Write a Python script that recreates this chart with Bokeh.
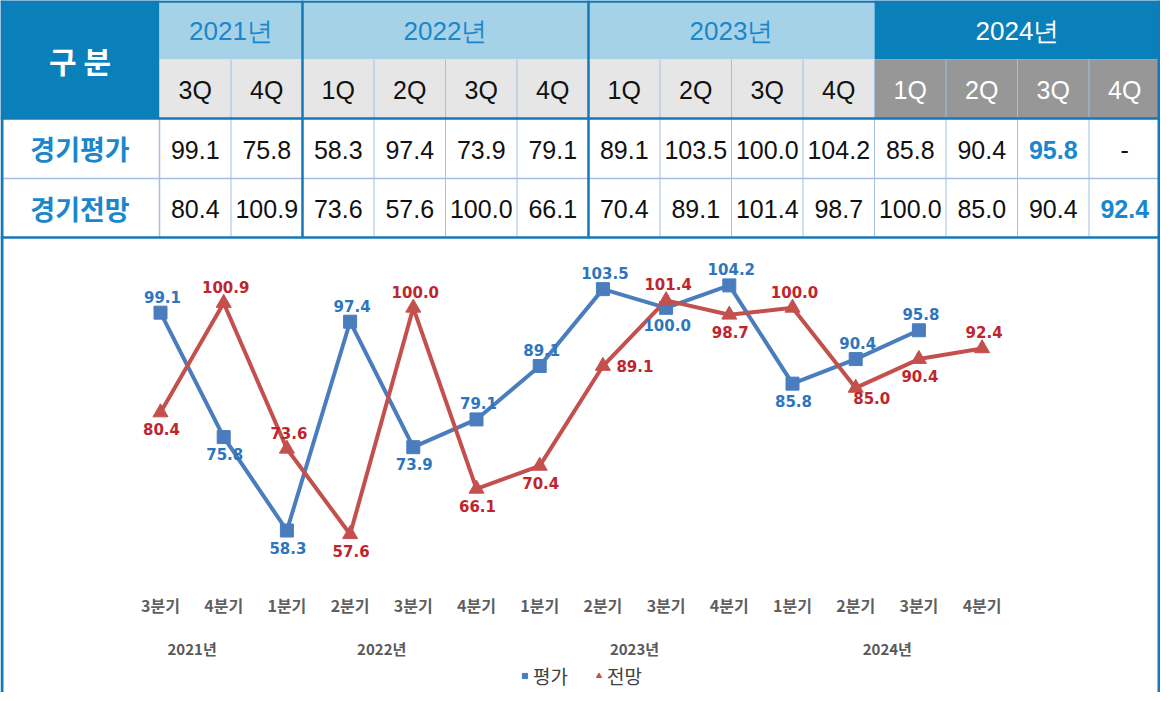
from bokeh.plotting import figure
from bokeh.models import Range1d, Legend, LegendItem, ColumnDataSource
from bokeh.core.properties import value
from bokeh.embed import file_html
from bokeh.resources import INLINE

# ---------------- data ----------------
header_label = "구 분"
years = ["2021년", "2022년", "2023년", "2024년"]
year_quarter_counts = [2, 4, 4, 4]
quarter_codes = ["3Q", "4Q", "1Q", "2Q", "3Q", "4Q", "1Q", "2Q", "3Q", "4Q", "1Q", "2Q", "3Q", "4Q"]
quarter_names = ["3분기", "4분기", "1분기", "2분기", "3분기", "4분기", "1분기", "2분기",
                 "3분기", "4분기", "1분기", "2분기", "3분기", "4분기"]
row_labels = ["경기평가", "경기전망"]
evaluation = [99.1, 75.8, 58.3, 97.4, 73.9, 79.1, 89.1, 103.5, 100.0, 104.2, 85.8, 90.4, 95.8]  # 2024 4Q: -
outlook = [80.4, 100.9, 73.6, 57.6, 100.0, 66.1, 70.4, 89.1, 101.4, 98.7, 100.0, 85.0, 90.4, 92.4]
legend_labels = ["평가", "전망"]

# label placement (style, not data)
eval_label_pos = ["up", "down", "down", "up", "down", "up", "up", "up", "down", "up", "down", "up", "up"]
outlook_label_pos = ["down", "up", "up", "down", "up", "down", "down", "right", "up", "down", "up",
                     "downright", "down", "up"]
OFFS = {"up": (2, -16), "down": (1, 17), "right": (32, 0), "downright": (16, 10)}

# ---------------- layout / style ----------------
W, H = 1160, 692
LABEL_W = 159
NQ = len(quarter_codes)
COL_W = (W - LABEL_W) / NQ
ROW_Y = [0, 59, 118, 178, 237]

DARK_BLUE = "#0A80BB"
LIGHT_BLUE = "#A6D2E7"
LIGHT_GRAY = "#E6E6E6"
DARK_GRAY = "#979797"
LINE_BLUE = "#1479B8"
THIN_LINE = "#A3BFE2"
TEXT_BLUE = "#1A87CC"
SANS = value("Liberation Sans")
KR = value("Noto Sans CJK KR")

# chart scale: index 0 at x=160 px, 63.2 px per quarter; 58.3 at y=530 px, 5.34 px per unit
Q0_X, Q_STEP = 160.0, 63.2
V_REF, V_Y, V_PX = 58.3, 530.0, 5.34

p = figure(width=W, height=H, output_backend="svg", toolbar_location=None,
           x_range=Range1d(0, W), y_range=Range1d(H, 0),
           min_border=0, background_fill_color="white", border_fill_color="white")
p.extra_x_ranges = {"q": Range1d(-Q0_X / Q_STEP, (W - Q0_X) / Q_STEP)}
p.extra_y_ranges = {"val": Range1d(V_REF - (H - V_Y) / V_PX, V_REF + V_Y / V_PX)}
p.axis.visible = False
p.grid.visible = False
p.outline_line_color = None

# ---------------- table ----------------
col_left = [LABEL_W + i * COL_W for i in range(NQ)]
col_ctr = [c + COL_W / 2 for c in col_left]

p.quad(left=[0], right=[LABEL_W], top=[ROW_Y[0]], bottom=[ROW_Y[2]], fill_color=DARK_BLUE, line_color=None)
starts = []
s = 0
for n in year_quarter_counts:
    starts.append(s)
    s += n
last_year = len(years) - 1
yl = [LABEL_W + starts[k] * COL_W for k in range(len(years))]
yr = [LABEL_W + (starts[k] + year_quarter_counts[k]) * COL_W for k in range(len(years))]
p.quad(left=yl, right=yr, top=ROW_Y[0], bottom=ROW_Y[1],
       fill_color=[DARK_BLUE if k == last_year else LIGHT_BLUE for k in range(len(years))], line_color=None)
q_is_last = [i >= starts[last_year] for i in range(NQ)]
p.quad(left=col_left, right=[c + COL_W for c in col_left], top=ROW_Y[1], bottom=ROW_Y[2],
       fill_color=[DARK_GRAY if f else LIGHT_GRAY for f in q_is_last], line_color=None)

# thin lines
thin_x = [LABEL_W + i * COL_W for i in range(1, NQ)]
p.segment(x0=thin_x, x1=thin_x, y0=ROW_Y[1], y1=ROW_Y[4], line_color=THIN_LINE, line_width=1)
p.segment(x0=[LABEL_W], x1=[LABEL_W], y0=[ROW_Y[2]], y1=[ROW_Y[4]], line_color=THIN_LINE, line_width=1.5)
p.segment(x0=[0], x1=[W], y0=[ROW_Y[3]], y1=[ROW_Y[3]], line_color=THIN_LINE, line_width=1.5)
# thick lines
thick_x = [LABEL_W + starts[k] * COL_W for k in range(1, last_year)]
p.segment(x0=thick_x, x1=thick_x, y0=ROW_Y[0], y1=ROW_Y[4], line_color=LINE_BLUE, line_width=2.5)
p.segment(x0=[0, 0, 0], x1=[W, W, W], y0=[1, ROW_Y[2], ROW_Y[4]], y1=[1, ROW_Y[2], ROW_Y[4]],
          line_color=LINE_BLUE, line_width=2.5)
p.segment(x0=[1.5, W - 1.5], x1=[1.5, W - 1.5], y0=[0, 0], y1=[H, H], line_color=LINE_BLUE, line_width=3)

# header texts
p.text(x=[LABEL_W / 2], y=[(ROW_Y[0] + ROW_Y[2]) / 2], text=[header_label], text_font=KR,
       text_font_size="30px", text_font_style="bold", text_color="white",
       text_align="center", text_baseline="middle")
p.text(x=[(a + b) / 2 for a, b in zip(yl, yr)], y=(ROW_Y[0] + ROW_Y[1]) / 2 + 1, text=years,
       text_font=SANS, text_font_size="26px",
       text_color=["white" if k == last_year else TEXT_BLUE for k in range(len(years))],
       text_align="center", text_baseline="middle")
p.text(x=col_ctr, y=(ROW_Y[1] + ROW_Y[2]) / 2 + 1, text=quarter_codes, text_font=SANS,
       text_font_size="25px", text_color=["white" if f else "#111111" for f in q_is_last],
       text_align="center", text_baseline="middle")
p.text(x=[LABEL_W / 2] * 2, y=[(ROW_Y[2] + ROW_Y[3]) / 2, (ROW_Y[3] + ROW_Y[4]) / 2], text=row_labels,
       text_font=KR, text_font_size="27px", text_font_style="bold", text_color=TEXT_BLUE,
       text_align="center", text_baseline="middle")

# value cells
rows = [evaluation, outlook]
nx, ny, nt, hx, hy, ht = [], [], [], [], [], []
for r, series in enumerate(rows):
    yc = (ROW_Y[2 + r] + ROW_Y[3 + r]) / 2 + 1
    for i in range(NQ):
        if i < len(series):
            txt = f"{series[i]:.1f}"
            if i == len(series) - 1:
                hx.append(col_ctr[i]); hy.append(yc); ht.append(txt)
                continue
        else:
            txt = "-"
        nx.append(col_ctr[i]); ny.append(yc); nt.append(txt)
p.text(x=nx, y=ny, text=nt, text_font=SANS, text_font_size="25px", text_color="#111111",
       text_align="center", text_baseline="middle")
p.text(x=hx, y=hy, text=ht, text_font=SANS, text_font_size="25px", text_font_style="bold",
       text_color="#1A86CE", text_align="center", text_baseline="middle")

# ---------------- chart ----------------
BLUE, RED = "#4A7DBE", "#C4504E"
BLUE_TXT, RED_TXT = "#2E76BC", "#C0242C"
ex = list(range(len(evaluation)))
ox = list(range(len(outlook)))
p.line(ex, evaluation, x_range_name="q", y_range_name="val", line_color=BLUE, line_width=4)
p.line(ox, outlook, x_range_name="q", y_range_name="val", line_color=RED, line_width=4)
sb = p.scatter(ex, evaluation, x_range_name="q", y_range_name="val", marker="square", size=13,
               fill_color=BLUE, line_color=BLUE)
sr = p.scatter(ox, outlook, x_range_name="q", y_range_name="val", marker="triangle", size=15,
               fill_color=RED, line_color=RED)

for xs, ys, pos, col in [(ex, evaluation, eval_label_pos, BLUE_TXT), (ox, outlook, outlook_label_pos, RED_TXT)]:
    src = ColumnDataSource(dict(x=xs, y=ys, t=[f"{v:.1f}" for v in ys],
                                dx=[OFFS[k][0] for k in pos], dy=[OFFS[k][1] for k in pos]))
    p.text(x="x", y="y", text="t", source=src, x_range_name="q", y_range_name="val",
           x_offset="dx", y_offset="dy", text_font=value("DejaVu Sans"), text_font_style="bold",
           text_font_size="15px", text_color=col, text_align="center", text_baseline="middle")

# category labels
p.text(x=list(range(NQ)), y=604, x_range_name="q", text=quarter_names, text_font=KR,
       text_font_size="16px", text_font_style="bold", text_color="#5F5F5F",
       text_align="center", text_baseline="middle")
year_ctr = [starts[k] + (year_quarter_counts[k] - 1) / 2 for k in range(len(years))]
p.text(x=year_ctr, y=648, x_range_name="q", text=years, text_font=KR,
       text_font_size="15px", text_font_style="bold", text_color="#595959",
       text_align="center", text_baseline="middle")

legend = Legend(items=[LegendItem(label=legend_labels[0], renderers=[sb]),
                       LegendItem(label=legend_labels[1], renderers=[sr])],
                location=(518, 3), orientation="horizontal", border_line_color=None,
                background_fill_alpha=0, margin=0, padding=2, spacing=24,
                glyph_width=13, glyph_height=13, label_height=20, label_standoff=2,
                label_text_font="Noto Sans CJK KR", label_text_font_size="19px",
                label_text_color="#404040")
p.add_layout(legend, "center")

open("out.html", "w").write(file_html(p, INLINE))
